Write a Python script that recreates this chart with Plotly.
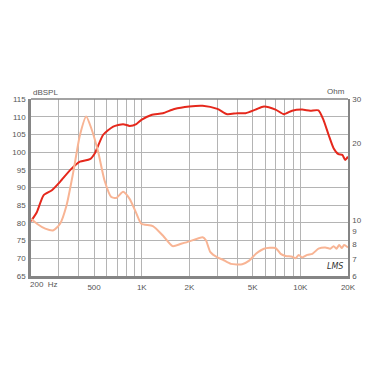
import plotly.graph_objects as go
import math

# SPL response (dB) vs frequency (Hz)
spl_freq = [200, 218, 240, 271, 305, 353, 407, 471, 506, 571, 660, 762, 838, 924, 994, 1148,
            1358, 1606, 1994, 2420, 3000, 3460, 4000, 4520, 5220, 5900, 6980, 7880, 8880,
            10260, 11550, 13020, 14000, 15080, 16220, 17400, 18420, 19200, 20000]
spl_db = [80.5, 83.1, 87.8, 89.2, 91.6, 94.9, 97.3, 98.0, 99.7, 104.9, 107.2, 107.9, 107.4, 107.9,
          109.1, 110.5, 111.0, 112.2, 112.9, 113.1, 112.2, 110.7, 111.0, 111.0, 112.0, 112.9,
          112.0, 110.7, 111.7, 112.0, 111.7, 111.8, 109.1, 104.9, 101.1, 99.4, 99.2, 97.8, 98.7]

# Impedance (Ohm) vs frequency (Hz)
imp_freq = [200, 218, 246, 277, 305, 335, 370, 407, 446, 480, 530, 582, 642, 690, 762, 838, 924,
            994, 1175, 1358, 1565, 1770, 2000, 2420, 2540, 2710, 3000, 3230, 3650, 4300, 4760,
            5250, 5900, 6980, 7520, 8080, 8880, 9330, 9780, 10260, 11080, 11920, 13020, 14380,
            15450, 16220, 16900, 17600, 18300, 18900, 20000]
imp_ohm = [10.1, 9.65, 9.23, 9.09, 9.65, 11.4, 15.5, 21.6, 25.6, 23.0, 18.6, 14.3, 12.3, 12.2,
           12.9, 12.1, 10.6, 9.65, 9.45, 8.67, 7.87, 8.04, 8.22, 8.54, 8.3, 7.45, 7.1, 6.97,
           6.70, 6.68, 6.90, 7.34, 7.69, 7.74, 7.34, 7.2, 7.15, 7.05, 7.27, 7.1, 7.27, 7.34,
           7.69, 7.78, 7.69, 7.87, 7.69, 7.95, 7.74, 7.95, 7.78]

x_tickvals = [200, 300, 400, 500, 600, 700, 800, 900, 1000, 2000, 3000, 4000, 5000, 6000,
              7000, 8000, 9000, 10000, 20000]
x_ticklabels = {500: "500", 1000: "1K", 2000: "2K", 5000: "5K", 10000: "10K", 20000: "20K"}
y_ticks = [65, 70, 75, 80, 85, 90, 95, 100, 105, 110, 115]
ohm_ticks = [6, 7, 8, 9, 10, 20, 30]

FONT = "Liberation Sans, Arial, sans-serif"
TXT = "#555555"
GRID = "#b4b4b4"
FRAME = "#858585"

fig = go.Figure()
fig.add_trace(go.Scatter(x=imp_freq, y=imp_ohm, yaxis="y2", mode="lines",
                         line=dict(color="#f8b494", width=2, shape="spline", smoothing=0.6),
                         hoverinfo="skip", showlegend=False))
fig.add_trace(go.Scatter(x=spl_freq, y=spl_db, mode="lines",
                         line=dict(color="#e5281c", width=2, shape="spline", smoothing=0.6),
                         hoverinfo="skip", showlegend=False))

fig.update_layout(
    width=375, height=375,
    margin=dict(l=29, r=27, t=99, b=99),
    paper_bgcolor="white", plot_bgcolor="white",
    font=dict(family=FONT, size=8, color=TXT),
    xaxis=dict(type="log", range=[math.log10(200), math.log10(20000)],
               tickmode="array", tickvals=x_tickvals,
               ticktext=[x_ticklabels.get(v, "") for v in x_tickvals],
               showgrid=True, gridcolor=GRID, gridwidth=1.3,
               showline=True, linecolor=FRAME, linewidth=2.5,
               ticks="", zeroline=False, ticklabelstandoff=2),
    yaxis=dict(range=[65, 115], tickmode="array", tickvals=y_ticks,
               showgrid=True, gridcolor=GRID, gridwidth=1.3,
               showline=True, linecolor=FRAME, linewidth=2.5,
               ticks="", zeroline=False, ticklabelstandoff=1),
    yaxis2=dict(type="log", range=[math.log10(6), math.log10(30)], overlaying="y", side="right",
                tickmode="array", tickvals=ohm_ticks, ticktext=[str(v) for v in ohm_ticks],
                showgrid=False, showline=True, linecolor=FRAME, linewidth=1.5,
                ticks="", zeroline=False, ticklabelstandoff=1),
)

# top frame line
fig.add_shape(type="line", xref="paper", yref="paper", x0=0, x1=1, y0=1, y1=1,
              line=dict(color=FRAME, width=1.5))

fig.add_annotation(text="200  Hz", xref="x", yref="paper", x=math.log10(200), y=0,
                   xanchor="left", yanchor="top", yshift=-2, xshift=-3, showarrow=False,
                   font=dict(family=FONT, size=8, color=TXT))
fig.add_annotation(text="dBSPL", xref="paper", yref="paper", x=0, y=1, xanchor="left",
                   yanchor="bottom", xshift=0, yshift=0, showarrow=False,
                   font=dict(family=FONT, size=8, color=TXT))
fig.add_annotation(text="Ohm", xref="paper", yref="paper", x=1, y=1, xanchor="right",
                   yanchor="bottom", xshift=-1, yshift=1, showarrow=False,
                   font=dict(family=FONT, size=8, color=TXT))
fig.add_annotation(text="<i>LMS</i>", xref="paper", yref="paper", x=1, y=0, xanchor="right",
                   yanchor="bottom", xshift=-3, yshift=3, showarrow=False,
                   font=dict(family="DejaVu Sans, sans-serif", size=8, color="#333333"))

fig.write_html("out.html")
